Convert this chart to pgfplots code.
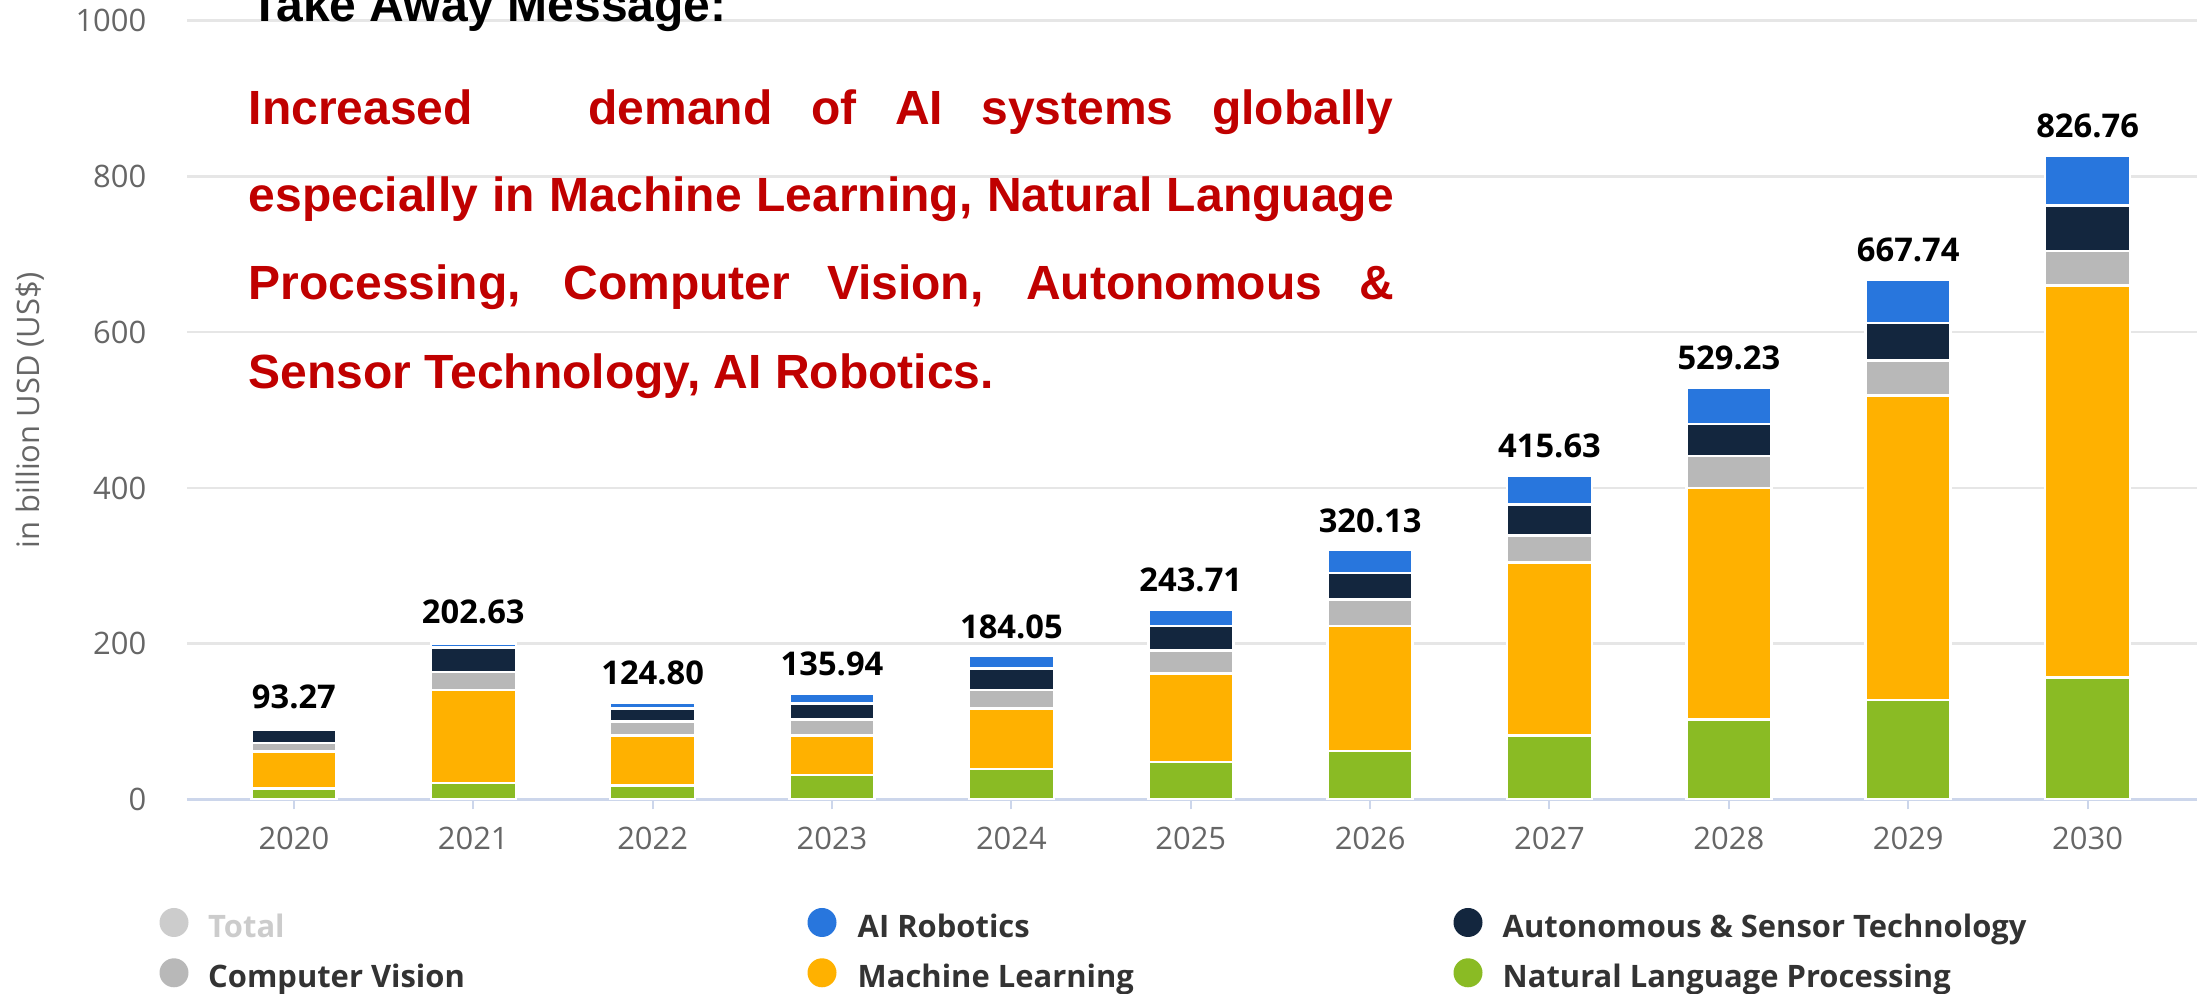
\documentclass[border=0pt]{standalone}
\usepackage{fontspec}
\setmainfont{Open Sans}
\newfontfamily\arialfont{Liberation Sans}
\usepackage{pgfplots}
\usepackage{pgfplotstable}
\pgfplotsset{compat=1.18}

\definecolor{robot}{HTML}{2876DD}
\definecolor{auton}{HTML}{13263E}
\definecolor{cvis}{HTML}{B8B8B8}
\definecolor{mlearn}{HTML}{FFB100}
\definecolor{nlp}{HTML}{8ABB24}
\definecolor{totalgray}{HTML}{CCCCCC}
\definecolor{axisblue}{HTML}{CCD6EB}
\definecolor{gridgray}{HTML}{E6E6E6}
\definecolor{ticktext}{HTML}{666666}
\definecolor{legtext}{HTML}{333333}
\definecolor{msgred}{HTML}{C00000}

% market size in billion USD, segments bottom to top, Total = label
\pgfplotstableread{
x  NLP    ML     CV    AST   Rob    Total
0  14.0   47.9   10.6  17.0  0.0    93.27
1  21.2   119.3  23.5  31.0  5.0    202.63
2  18.0   64.4   17.6  17.0  7.8    124.80
3  31.7   50.7   20.1  20.8  12.6   135.94
4  39.0   77.6   23.9  27.8  15.75  184.05
5  48.4   113.3  29.3  31.7  21.0   243.71
6  62.2   160.3  34.0  34.5  29.1   320.13
7  82.3   222.1  34.3  40.3  36.6   415.63
8  102.7  297.3  41.0  41.0  47.2   529.23
9  127.6  391.4  44.6  48.2  55.9   667.74
10 156.8  503.4  44.0  58.2  64.4   826.76
}\aimarket

\newcommand{\ticksize}{\fontsize{8.8}{10}\selectfont}
\newcommand{\legsize}{\fontsize{8.8}{10}\selectfont\bfseries}
\newcommand{\msgfont}{\arialfont\bfseries\fontsize{13.66}{16}\selectfont}

\pgfplotsset{chartbox/.style={
  at={(18.7mm,19.45mm)}, anchor=south west,
  scale only axis, width=201mm, height=77.88mm,
  xmin=-0.596, xmax=10.61, ymin=0, ymax=1000}}

\begin{document}
\begin{tikzpicture}
\useasboundingbox (0,0) rectangle (220.8mm,99.4mm);
\clip (0,0) rectangle (220.8mm,99.4mm);
\begin{axis}[
  chartbox,
  ybar stacked, bar width=8.5mm,
  xtick={0,...,10},
  xticklabels={2020,2021,2022,2023,2024,2025,2026,2027,2028,2029,2030},
  ytick={0,200,...,1000},
  ymajorgrids, major grid style={gridgray, line width=0.25mm},
  axis x line*=bottom, axis y line*=left,
  x axis line style={axisblue, line width=0.25mm},
  y axis line style={draw=none},
  xtick style={axisblue, line width=0.2mm}, ytick style={draw=none},
  major tick length=1mm, tick align=outside,
  ticklabel style={font=\ticksize, text=ticktext, inner sep=0pt},
  xticklabel style={anchor=north, yshift=-1.7mm},
  yticklabel style={anchor=east, xshift=-3mm},
  /pgf/number format/assume math mode=true,
  /pgf/number format/1000 sep={},
  ylabel={in billion USD (US\$)},
  every axis y label/.style={at={(axis description cs:0,0.5)}, xshift=-15.7mm, rotate=90, anchor=center, font=\ticksize, text=ticktext},
  every axis plot/.append style={draw=white, line width=0.25mm},
]
\addplot[fill=nlp] table[x=x, y=NLP] {\aimarket};
\addplot[fill=mlearn] table[x=x, y=ML] {\aimarket};
\addplot[fill=cvis] table[x=x, y=CV] {\aimarket};
\addplot[fill=auton] table[x=x, y=AST] {\aimarket};
\addplot[fill=robot] table[x=x, y=Rob] {\aimarket};
\end{axis}

% total labels above the bars
\begin{axis}[chartbox, hide axis, clip=false]
\addplot[draw=none, point meta=y,
  nodes near coords={\pgfmathprintnumber[fixed,fixed zerofill,precision=2,assume math mode=true]{\pgfplotspointmeta}},
  every node near coord/.append style={anchor=base, yshift=1.8mm, font=\bfseries\fontsize{9.3}{11}\selectfont, text=black, inner sep=0pt}]
  table[x=x, y=Total] {\aimarket};
\end{axis}

% take away message
\node[anchor=base west, inner sep=0pt, font=\msgfont] at (25.0mm,97.24mm) {Take Away Message:};
\begin{scope}[every node/.style={anchor=base west, inner sep=0pt, font=\msgfont, text=msgred}]
\node at (24.8mm,86.97mm) {\makebox[114.5mm][s]{Increased\ \ \ demand of AI systems globally}};
\node at (24.8mm,78.21mm) {\makebox[114.5mm][s]{especially in Machine Learning, Natural Language}};
\node at (24.8mm,69.43mm) {\makebox[114.5mm][s]{Processing, Computer Vision, Autonomous \&}};
\node at (24.8mm,60.57mm) {Sensor Technology, AI Robotics.};
\end{scope}

% legend
\begin{scope}[every node/.style={anchor=base west, inner sep=0pt, font=\legsize, text=legtext}]
\fill[totalgray] (17.4mm,7.15mm) circle (1.45mm);
\node[text=totalgray] at (20.75mm,5.67mm) {Total};
\fill[robot] (82.2mm,7.15mm) circle (1.45mm);
\node at (85.7mm,5.67mm) {AI Robotics};
\fill[auton] (146.8mm,7.15mm) circle (1.45mm);
\node at (150.2mm,5.67mm) {Autonomous \& Sensor Technology};
\fill[cvis] (17.4mm,2.12mm) circle (1.45mm);
\node at (20.75mm,0.67mm) {Computer Vision};
\fill[mlearn] (82.2mm,2.12mm) circle (1.45mm);
\node at (85.7mm,0.67mm) {Machine Learning};
\fill[nlp] (146.8mm,2.12mm) circle (1.45mm);
\node at (150.2mm,0.67mm) {Natural Language Processing};
\end{scope}
\end{tikzpicture}
\end{document}
